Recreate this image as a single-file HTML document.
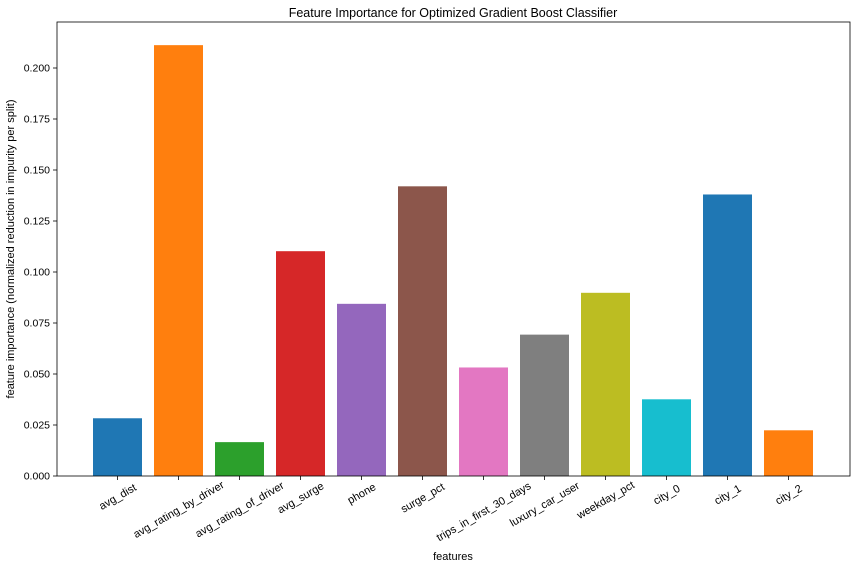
<!DOCTYPE html>
<html><head><meta charset="utf-8"><style>
body{margin:0;background:#fff}
svg{font-family:"Liberation Sans","DejaVu Sans",sans-serif}
</style></head><body>
<svg id="chart" width="856" height="568">
<text x="453" y="17" font-size="12.5" text-anchor="middle" fill="#000">Feature Importance for Optimized Gradient Boost Classifier</text>
<text x="453" y="560" font-size="11" text-anchor="middle">features</text>
<text transform="translate(14,249) rotate(-90)" font-size="11" text-anchor="middle">feature importance (normalized reduction in impurity per split)</text>
<g id="bars"></g><g id="axes"></g>
</svg>
<script>
const categories=["avg_dist","avg_rating_by_driver","avg_rating_of_driver","avg_surge","phone","surge_pct","trips_in_first_30_days","luxury_car_user","weekday_pct","city_0","city_1","city_2"];
const values=[0.0283,0.2112,0.0166,0.1102,0.0844,0.1420,0.0532,0.0693,0.0898,0.0376,0.1380,0.0224];
const colors=["#1f77b4","#ff7f0e","#2ca02c","#d62728","#9467bd","#8c564b","#e377c2","#7f7f7f","#bcbd22","#17becf","#1f77b4","#ff7f0e"];
const yTicks=[0,0.025,0.05,0.075,0.1,0.125,0.15,0.175,0.2];
const NS="http://www.w3.org/2000/svg";
const L=57,R=850,T=22,B=476;
const y=v=>B-v*2040;
const x=i=>117.5+i*61;
const bw=49;
const bars=document.getElementById('bars'),axes=document.getElementById('axes');
function mk(tag,attrs,parent,text){const e=document.createElementNS(NS,tag);for(const k in attrs)e.setAttribute(k,attrs[k]);if(text!==undefined)e.textContent=text;parent.appendChild(e);return e;}
values.forEach((v,i)=>{
 const r=mk('rect',{x:x(i)-bw/2,y:y(v),width:bw,height:B-y(v),fill:colors[i]},bars);
 
 
 mk('line',{x1:x(i),x2:x(i),y1:B,y2:B+4,stroke:'#000','stroke-width':0.8},axes);
 const w=categories[i].length*5.6;
 const cy=B+12+w*0.19;
 const t=mk('text',{transform:`translate(${x(i)},${cy}) rotate(-30)`,'text-anchor':'middle','font-size':11,dy:'0.35em'},axes,categories[i]);
 
 
});
yTicks.forEach(v=>{
 mk('line',{x1:L-4,x2:L,y1:y(v),y2:y(v),stroke:'#000','stroke-width':0.8},axes);
 const t=mk('text',{x:L-7,y:y(v)+3.5,'text-anchor':'end','font-size':10.5},axes,v.toFixed(3));
 
 
});
const f=mk('rect',{x:L,y:T,width:R-L,height:B-T,fill:'none',stroke:'#000','stroke-width':0.8},axes);


</script>
</body></html>
